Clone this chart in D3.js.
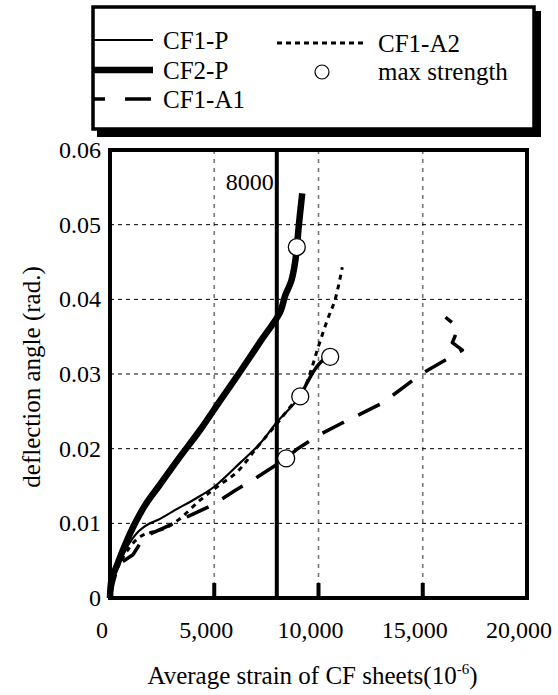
<!DOCTYPE html>
<html>
<head>
<meta charset="utf-8">
<script src="https://cdn.jsdelivr.net/npm/d3@7"></script>
<style>
  body { margin: 0; background: #fff; }
  svg text { font-family: "Liberation Serif", "Times New Roman", serif; fill: #000; }
</style>
</head>
<body>
<svg id="chart" width="558" height="695"></svg>
<script>
// strain (10^-6) vs deflection angle (rad.)
const cf1P = [[0,0],[150,0.0025],[500,0.005],[900,0.0072],[1400,0.0090],[1850,0.0099],[2260,0.0104],
  [3200,0.0119],[4100,0.0133],[5000,0.0149],[6240,0.0181],[7200,0.0207],[8020,0.0236],[8700,0.0256],
  [9125,0.0270]];
// after the 8000 line the CF1-P trace is drawn heavier
const cf1PTail = [[9125,0.0270],[9450,0.0288],[9800,0.0305],[10150,0.0317],[10560,0.0323]];
const cf2P = [[0,0],[80,0.0025],[350,0.0045],[720,0.0071],[1200,0.0100],[1700,0.0125],[2400,0.0152],
  [3300,0.0187],[4320,0.0225],[5300,0.0265],[6240,0.0303],[7200,0.0343],[8160,0.0383],[8400,0.0405],
  [8700,0.0425],[8880,0.0450],[8960,0.0470],[9060,0.0500],[9220,0.0542]];
const cf1A1 = [[0,0],[150,0.0020],[400,0.0045],[1100,0.0058],[1600,0.0080],[2100,0.0088],[2900,0.0098],
  [3800,0.0110],[4950,0.0125],[6000,0.0144],[6900,0.0159],[8450,0.0187],[9000,0.0200],[10000,0.0218],
  [11040,0.0233],[13060,0.0261],[14980,0.0301],[16900,0.0332],[16420,0.0342],[16710,0.0362],[16090,0.0376]];
const cf1A2 = [[0,0],[150,0.0025],[500,0.0048],[1000,0.0070],[1500,0.0083],[2000,0.0088],[2600,0.0093],
  [3300,0.0105],[4320,0.0131],[5140,0.0149],[6100,0.0169],[7060,0.0202],[8020,0.0234],[8645,0.0256],
  [9125,0.0271],[9460,0.0290],[9700,0.0310],[9940,0.0332],[10420,0.0372],[10800,0.0400],[11140,0.0443]];
const maxStrength = [[8960,0.0470],[10560,0.0323],[9125,0.0270],[8450,0.0187]];
const limitStrain = 8000;

const xTicks = [0, 5000, 10000, 15000, 20000];
const yTicks = [0, 0.01, 0.02, 0.03, 0.04, 0.05, 0.06];
const xGrid = [5000, 10000, 15000];
const yGrid = [0.01, 0.02, 0.03, 0.04, 0.05];

const svg = d3.select("#chart");
const pLeft = 110, pRight = 527, pTop = 150, pBottom = 598;

const x = d3.scaleLinear().domain([0, 20000]).range([pLeft, pRight]);
const y = d3.scaleLinear().domain([0, 0.06]).range([pBottom, pTop]);

// grid
svg.selectAll(".vgrid").data(xGrid).enter().append("line")
  .attr("x1", d => x(d)).attr("x2", d => x(d))
  .attr("y1", pTop).attr("y2", pBottom)
  .attr("stroke", "#777").attr("stroke-width", 1.6).attr("stroke-dasharray", "4,5");
svg.selectAll(".hgrid").data(yGrid).enter().append("line")
  .attr("x1", pLeft).attr("x2", pRight)
  .attr("y1", d => y(d)).attr("y2", d => y(d))
  .attr("stroke", "#000").attr("stroke-width", 1).attr("stroke-dasharray", "4,4");

// inner ticks on x axis
svg.selectAll(".xtick").data(xGrid).enter().append("line")
  .attr("x1", d => x(d)).attr("x2", d => x(d))
  .attr("y1", pBottom - 15).attr("y2", pBottom)
  .attr("stroke", "#000").attr("stroke-width", 4);

// limit line
svg.append("line")
  .attr("x1", x(limitStrain)).attr("x2", x(limitStrain))
  .attr("y1", pTop).attr("y2", pBottom)
  .attr("stroke", "#000").attr("stroke-width", 4);
svg.append("text")
  .attr("x", x(limitStrain) - 3).attr("y", pTop + 40)
  .attr("text-anchor", "end").attr("font-size", 24)
  .text("8000");

// frame
svg.append("rect")
  .attr("x", pLeft).attr("y", pTop)
  .attr("width", pRight - pLeft).attr("height", pBottom - pTop)
  .attr("fill", "none").attr("stroke", "#000").attr("stroke-width", 4);

// curves
const line = d3.line().x(d => x(d[0])).y(d => y(d[1])).curve(d3.curveCatmullRom.alpha(0.5));
const lineLin = d3.line().x(d => x(d[0])).y(d => y(d[1]));

const series = [
  { data: cf1A1, w: 3.5, dash: "24,16", gen: lineLin },
  { data: cf1A2, w: 3, dash: "5,5", gen: line },
  { data: cf1P, w: 2.2, dash: null, gen: line },
  { data: cf1PTail, w: 3.5, dash: null, gen: line },
  { data: cf2P, w: 6.5, dash: null, gen: line }
];
series.forEach(s => {
  svg.append("path")
    .attr("d", s.gen(s.data))
    .attr("fill", "none").attr("stroke", "#000")
    .attr("stroke-width", s.w)
    .attr("stroke-dasharray", s.dash)
    .attr("stroke-linejoin", "round");
});

svg.selectAll(".maxpt").data(maxStrength).enter().append("circle")
  .attr("cx", d => x(d[0])).attr("cy", d => y(d[1])).attr("r", 8.5)
  .attr("fill", "#fff").attr("stroke", "#000").attr("stroke-width", 1.3);

// tick labels (the original sits them slightly left of the grid)
svg.selectAll(".xlab").data(xTicks).enter().append("text")
  .attr("x", d => x(d) - 8).attr("y", 638)
  .attr("text-anchor", "middle").attr("font-size", 24)
  .text(d => d3.format(",")(d));
svg.selectAll(".ylab").data(yTicks).enter().append("text")
  .attr("x", 101).attr("y", d => y(d) + 8)
  .attr("text-anchor", "end").attr("font-size", 24)
  .text(d => d === 0 ? "0" : d3.format(".2f")(d));

// axis titles
svg.append("text")
  .attr("transform", "translate(40," + ((pTop + pBottom) / 2 + 3) + ") rotate(-90)")
  .attr("text-anchor", "middle").attr("font-size", 25)
  .text("deflection angle (rad.)");
const xt = svg.append("text")
  .attr("x", (pLeft + pRight) / 2 - 6).attr("y", 684)
  .attr("text-anchor", "middle").attr("font-size", 25);
xt.append("tspan").text("Average strain of CF sheets(10");
xt.append("tspan").attr("font-size", 15).attr("dy", -10).text("-6");
xt.append("tspan").attr("dy", 10).text(")");

// legend
svg.append("rect").attr("x", 97).attr("y", 11).attr("width", 444).attr("height", 126).attr("fill", "#000");
svg.append("rect").attr("x", 93).attr("y", 7).attr("width", 441).attr("height", 122)
  .attr("fill", "#fff").attr("stroke", "#000").attr("stroke-width", 3.5);

const legendItems = [
  { label: "CF1-P", lx: 93, len: 60, ly: 40, w: 2.2, dash: null, tx: 163 },
  { label: "CF2-P", lx: 93, len: 60, ly: 70, w: 6.5, dash: null, tx: 163 },
  { label: "CF1-A1", lx: 93, len: 58, ly: 99, w: 3.5, dash: "12,20,26", tx: 163 },
  { label: "CF1-A2", lx: 277, len: 90, ly: 43, w: 3, dash: "5,4", tx: 378 }
];
legendItems.forEach(it => {
  svg.append("line")
    .attr("x1", it.lx).attr("x2", it.lx + it.len)
    .attr("y1", it.ly).attr("y2", it.ly)
    .attr("stroke", "#000").attr("stroke-width", it.w)
    .attr("stroke-dasharray", it.dash);
  svg.append("text")
    .attr("x", it.tx).attr("y", it.ly + 9)
    .attr("font-size", 25).text(it.label);
});
svg.append("circle").attr("cx", 322).attr("cy", 72).attr("r", 7)
  .attr("fill", "#fff").attr("stroke", "#000").attr("stroke-width", 1.2);
svg.append("text").attr("x", 378).attr("y", 80).attr("font-size", 25).text("max strength");
</script>
</body>
</html>
